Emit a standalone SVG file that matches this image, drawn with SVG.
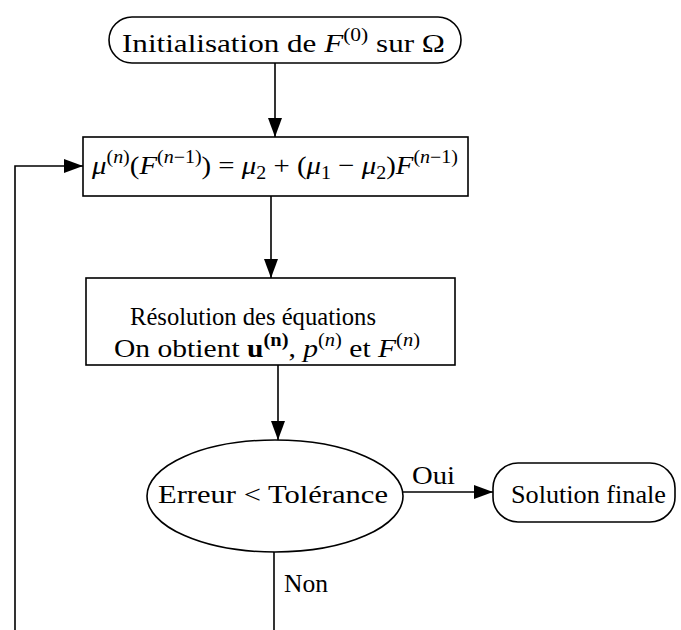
<svg xmlns="http://www.w3.org/2000/svg" width="681" height="630" viewBox="0 0 681 630">
<defs>
<marker id="ah" markerWidth="19" markerHeight="14" refX="19" refY="7" orient="auto" markerUnits="userSpaceOnUse">
<path d="M0,0 L19,7 L0,14 Z" fill="#000"/>
</marker>
<style>
.sh{fill:#fff;stroke:#000;stroke-width:1.6}
.t{font-family:"Liberation Serif",serif;font-size:26px;fill:#000}
.m{font-style:italic}
.c{stroke:#000;stroke-width:1.6;fill:none}
</style>
</defs>
<rect width="681" height="630" fill="#fff"/>
<g id="connectors">
<line class="c" x1="275" y1="63" x2="275" y2="137" marker-end="url(#ah)"/>
<polyline class="c" points="15,630 15,166 83,166" marker-end="url(#ah)"/>
<line class="c" x1="271" y1="196" x2="271" y2="278" marker-end="url(#ah)"/>
<line class="c" x1="278" y1="365" x2="278" y2="440" marker-end="url(#ah)"/>
<line class="c" x1="403" y1="492" x2="493" y2="492" marker-end="url(#ah)"/>
<text class="t" x="412" y="484" font-size="27" textLength="43" lengthAdjust="spacingAndGlyphs">Oui</text>
<line class="c" x1="274" y1="552" x2="274" y2="630"/>
<text class="t" x="284" y="592" font-size="27" textLength="44" lengthAdjust="spacingAndGlyphs">Non</text>
</g>
<g id="init">
<rect class="sh" x="109" y="17" width="352" height="46" rx="23"/>
<text class="t" x="122" y="52" font-size="28" textLength="323" lengthAdjust="spacingAndGlyphs">Initialisation de <tspan class="m">F</tspan><tspan font-size="18" dy="-11">(0)</tspan><tspan dy="11"> sur Ω</tspan></text>
</g>
<g id="mu">
<rect class="sh" x="83" y="137" width="385" height="59"/>
<text class="t" x="92" y="174" font-size="26" textLength="366" lengthAdjust="spacingAndGlyphs"><tspan class="m">μ</tspan><tspan font-size="18" dy="-11">(<tspan class="m">n</tspan>)</tspan><tspan dy="11">(</tspan><tspan class="m">F</tspan><tspan font-size="18" dy="-11">(<tspan class="m">n</tspan>−1)</tspan><tspan dy="11">) = </tspan><tspan class="m">μ</tspan><tspan font-size="18" dy="5">2</tspan><tspan dy="-5"> + (</tspan><tspan class="m">μ</tspan><tspan font-size="18" dy="5">1</tspan><tspan dy="-5"> − </tspan><tspan class="m">μ</tspan><tspan font-size="18" dy="5">2</tspan><tspan dy="-5">)</tspan><tspan class="m">F</tspan><tspan font-size="18" dy="-11">(<tspan class="m">n</tspan>−1)</tspan></text>
</g>
<g id="resolution">
<rect class="sh" x="86" y="278" width="369" height="87"/>
<text class="t" x="130" y="325" font-size="27" textLength="246" lengthAdjust="spacingAndGlyphs">Résolution des équations</text>
<text class="t" x="114" y="357" font-size="26" textLength="306" lengthAdjust="spacingAndGlyphs">On obtient <tspan font-weight="bold">u</tspan><tspan font-size="18" font-weight="bold" dy="-11">(n)</tspan><tspan dy="11">, </tspan><tspan class="m">p</tspan><tspan font-size="18" dy="-11">(<tspan class="m">n</tspan>)</tspan><tspan dy="11"> et </tspan><tspan class="m">F</tspan><tspan font-size="18" dy="-11">(<tspan class="m">n</tspan>)</tspan></text>
</g>
<g id="test">
<ellipse class="sh" cx="275" cy="496" rx="128" ry="56"/>
<text class="t" x="158" y="503" font-size="27" textLength="230" lengthAdjust="spacingAndGlyphs">Erreur &lt; Tolérance</text>
</g>
<g id="solution">
<rect class="sh" x="493" y="463" width="182" height="59" rx="25"/>
<text class="t" x="511" y="503" font-size="26" textLength="155" lengthAdjust="spacingAndGlyphs">Solution finale</text>
</g>
</svg>
